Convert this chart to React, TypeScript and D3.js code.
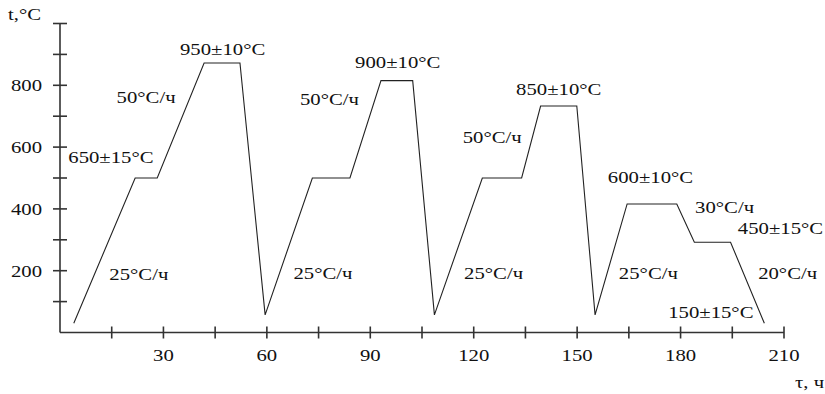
import React from "react";
import * as d3 from "d3";

const profileTime: number[] = [4, 21.8, 28.2, 41.8, 52.2, 59.5, 73.2, 84.1, 93.1, 102.3, 108.6, 122.5, 133.9, 139.4, 149.9, 155.2, 164.5, 178.9, 184, 194.5, 204.3];
const profileTemp: number[] = [30, 500, 500, 872, 872, 57, 500, 500, 815, 815, 57, 500, 500, 733, 733, 57, 416, 416, 292, 292, 30];

const xTicks: number[] = [15, 30, 45, 60, 75, 90, 105, 120, 135, 150, 165, 180, 195, 210];
const xTickLabels: number[] = [30, 60, 90, 120, 150, 180, 210];
const yTicks: number[] = [100, 200, 300, 400, 500, 600, 700, 800, 900, 1000];
const yTickLabels: number[] = [200, 400, 600, 800];

const labelText: string[] = ["950±10°C", "50°C/ч", "650±15°C", "25°C/ч", "900±10°C", "50°C/ч", "850±10°C", "50°C/ч", "25°C/ч", "25°C/ч", "600±10°C", "25°C/ч", "30°C/ч", "450±15°C", "20°C/ч", "150±15°C"];
const labelTime: number[] = [34.8, 16.4, 2.4, 14.3, 85.6, 69.6, 132.3, 116.8, 67.7, 117.2, 158.9, 162.1, 184.2, 196.6, 202.5, 176.4];
const labelTemp: number[] = [898, 743, 549, 170, 855, 736, 769, 614, 172, 172, 485, 172, 386, 318, 172, 46];

const FONT = "'Liberation Serif', 'Times New Roman', serif";
const SX = 1.22;
const FS = 17;
const INK = "#111";

function T({ x, y, anchor = "start", children }: { x: number; y: number; anchor?: string; children: React.ReactNode }) {
  return (
    <text
      transform={`translate(${x},${y}) scale(${SX},1)`}
      textAnchor={anchor as any}
      fontFamily={FONT}
      fontSize={FS}
      fill={INK}
    >
      {children}
    </text>
  );
}

export default function App() {
  const W = 825;
  const H = 394;
  const x = d3.scaleLinear().domain([0, 210]).range([60, 784]);
  const y = d3.scaleLinear().domain([0, 1000]).range([332.5, 23.5]);

  const pts: [number, number][] = profileTime.map((t, i) => [t, profileTemp[i]]);
  const line = d3
    .line<[number, number]>()
    .x((d) => x(d[0]))
    .y((d) => y(d[1]));

  const axisColor = "#333";

  return (
    <svg
      width={W}
      height={H}
      style={{ position: "absolute", left: 0, top: 0, background: "#fff" }}
    >
      <rect width={W} height={H} fill="#fff" />
      {/* axes */}
      <line x1={x(0)} x2={x(0)} y1={y(0)} y2={y(1000)} stroke={axisColor} strokeWidth={1.6} />
      <line x1={x(0)} x2={x(210)} y1={y(0)} y2={y(0)} stroke={axisColor} strokeWidth={1.6} />
      {yTicks.map((v) => (
        <line key={"yt" + v} x1={x(0) - 7} x2={x(0) + 7} y1={y(v)} y2={y(v)} stroke={axisColor} strokeWidth={1.6} />
      ))}
      {xTicks.map((v) => (
        <line key={"xt" + v} x1={x(v)} x2={x(v)} y1={y(0) - 6} y2={y(0) + 6} stroke={axisColor} strokeWidth={1.6} />
      ))}
      {yTickLabels.map((v) => (
        <T key={"yl" + v} x={x(0) - 18} y={y(v) + 6} anchor="end">
          {v}
        </T>
      ))}
      {xTickLabels.map((v) => (
        <T key={"xl" + v} x={x(v)} y={y(0) + 28} anchor="middle">
          {v}
        </T>
      ))}
      <T x={8} y={20}>t,°C</T>
      <T x={795} y={388}>τ, ч</T>

      {/* profile */}
      <path d={line(pts) || ""} fill="none" stroke="#222" strokeWidth={1.1} />

      {/* annotations */}
      {labelText.map((s, i) => (
        <T key={"a" + i} x={x(labelTime[i])} y={y(labelTemp[i])}>
          {s}
        </T>
      ))}
    </svg>
  );
}
